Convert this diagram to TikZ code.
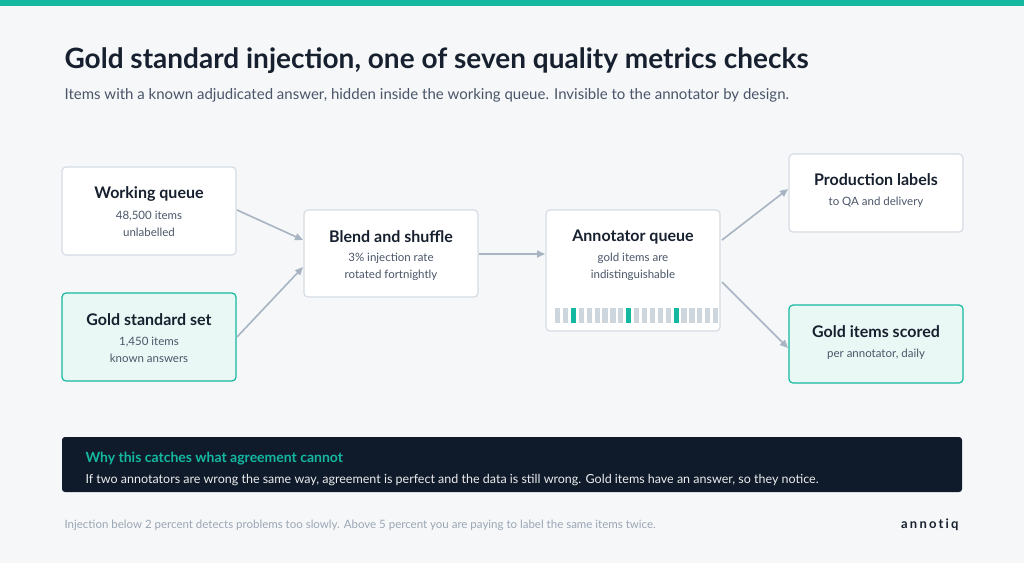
\documentclass[tikz,border=0pt]{standalone}
\usepackage{fontspec}
\setmainfont{Lato}
\usetikzlibrary{arrows.meta}
\definecolor{bg}{HTML}{F6F7F9}
\definecolor{teal}{HTML}{14B8A0}
\definecolor{ink}{HTML}{17202E}
\definecolor{sub}{HTML}{4A5568}
\definecolor{bord}{HTML}{D5DCE4}
\definecolor{lteal}{HTML}{EAF8F5}
\definecolor{dark}{HTML}{0F1B2B}
\definecolor{arr}{HTML}{A9B4C2}
\definecolor{bar}{HTML}{CDD5DD}
\definecolor{foot}{HTML}{9AA6B4}
\begin{document}
\begin{tikzpicture}[x=1pt,y=-1pt,
 box/.style={draw=bord,line width=1.2pt,fill=white,rounded corners=4pt},
 gbox/.style={draw=teal,line width=1.2pt,fill=lteal,rounded corners=4pt},
 hd/.style={font=\fontsize{16}{18}\selectfont\bfseries,text=ink},
 sm/.style={font=\fontsize{11.5}{17}\selectfont,text=sub,align=center},
 ar/.style={draw=arr,line width=1.6pt,-{Triangle[length=8pt,width=7pt]}}]
\useasboundingbox (0,0) rectangle (1024,563);
\fill[bg] (0,0) rectangle (1024,563);
\fill[teal] (0,0) rectangle (1024,6);
\node[anchor=base west,font=\fontsize{28}{32}\selectfont\bfseries,text=ink] (title) at (61,68) {Gold standard injection, one of seven quality metrics checks};
\node[anchor=base west,font=\fontsize{15}{18}\selectfont,text=sub] (subt) at (61,99) {Items with a known adjudicated answer, hidden inside the working queue. Invisible to the annotator by design.};
% boxes
\draw[box] (62,167) rectangle (236,255) node[pos=0,coordinate] (wqa) {};
\coordinate (wq) at (149,211);
\node[hd] (wqt) at (149,194) {Working queue};
\node[sm] (wqs) at (149,224) {48,500 items\\unlabelled};
\draw[gbox] (62,293) rectangle (236,381);
\node[hd] (gst) at (149,320) {Gold standard set};
\node[sm] (gss) at (149,350) {1,450 items\\known answers};
\draw[box] (304,210) rectangle (478,297);
\node[hd] (bst) at (391,237) {Blend and shuffle};
\node[sm] (bss) at (391,267) {3\% injection rate\\rotated fortnightly};
\draw[box] (546,210) rectangle (720,331);
\node[hd] (aqt) at (633,237) {Annotator queue};
\node[sm] (aqs) at (633,267) {gold items are\\indistinguishable};
\foreach \i in {0,...,20}{
  \pgfmathsetmacro{\xx}{555+7.9*\i}
  \ifnum\i=2 \fill[teal] (\xx,308) rectangle ++(5.2,15);
  \else\ifnum\i=9 \fill[teal] (\xx,308) rectangle ++(5.2,15);
  \else\ifnum\i=15 \fill[teal] (\xx,308) rectangle ++(5.2,15);
  \else \fill[bar] (\xx,308) rectangle ++(5.2,15);\fi\fi\fi}
\draw[box] (789,154) rectangle (963,232);
\node[hd] (plt) at (876,180) {Production labels};
\node[sm] (pls) at (876,202) {to QA and delivery};
\draw[gbox] (789,305) rectangle (963,383);
\node[hd] (gît) at (876,332) {Gold items scored};
\node[sm] (gis) at (876,354) {per annotator, daily};
% connector anchors
\coordinate (w1) at (237,210); \coordinate (b1) at (303,240);
\coordinate (g1) at (237,337); \coordinate (b2) at (303,267);
\coordinate (b3) at (479,254); \coordinate (a1) at (545,254);
\coordinate (a2) at (722,240); \coordinate (p1) at (788,189);
\coordinate (a3) at (722,282); \coordinate (s1) at (788,348);
\draw[ar] (w1) -- (b1);
\draw[ar] (g1) -- (b2);
\draw[ar] (b3) -- (a1);
\draw[ar] (a2) -- (p1);
\draw[ar] (a3) -- (s1);
% dark box
\fill[dark,rounded corners=3pt] (62,437) rectangle (962,492);
\node[anchor=base west,font=\fontsize{14}{16}\selectfont\bfseries,text=teal] (why) at (82,462) {Why this catches what agreement cannot};
\node[anchor=base west,font=\fontsize{12.5}{15}\selectfont,text=white!92!dark] (whyt) at (82,483) {If two annotators are wrong the same way, agreement is perfect and the data is still wrong. Gold items have an answer, so they notice.};
\node[anchor=base west,font=\fontsize{11.5}{14}\selectfont,text=foot] (ft) at (61,528) {Injection below 2 percent detects problems too slowly. Above 5 percent you are paying to label the same items twice.};
\node[anchor=base east,font=\fontsize{13}{15}\selectfont\bfseries,text=ink] (logo) at (962,528) {a\,n\,n\,o\,t\,i\,q};
\end{tikzpicture}
\end{document}
